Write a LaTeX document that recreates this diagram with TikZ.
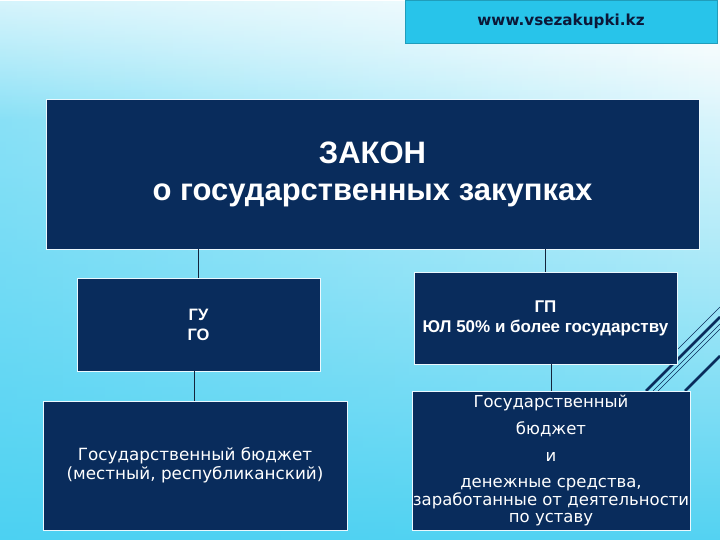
\documentclass[tikz,border=0pt]{standalone}
\usepackage{fontspec}
\setmainfont{Liberation Sans}
\newfontfamily\gothic{DejaVu Sans}
\usetikzlibrary{fadings}
\definecolor{navy}{RGB}{9,44,92}
\definecolor{urlc}{RGB}{40,196,234}
\definecolor{urltxt}{RGB}{12,24,56}
\definecolor{bgbot}{RGB}{84,211,242}
\definecolor{bgleft}{RGB}{70,208,242}
\definecolor{linec}{RGB}{20,36,60}
\tikzset{
  box/.style={draw=white!92!cyan, line width=0.8pt, fill=navy, text=white, align=center, inner sep=0pt},
  conn/.style={draw=linec, line width=0.8pt},
  deco/.style={draw=navy, line cap=butt}
}
\begin{document}
\begin{tikzpicture}[x=1pt,y=-1pt]
\useasboundingbox (0,0) rectangle (720,540);
% background
\shade[top color=white, bottom color=bgbot] (0,0) rectangle (720,540);
\fill[bgleft, path fading=east, fill opacity=0.55] (0,0) rectangle (720,540);
\fill[white, path fading=south, fill opacity=0.6] (0,0) rectangle (720,120);
% decorative lines
\draw[deco, line width=0.5pt] (678,349) -- (720,307);
\draw[deco, line width=2.6pt] (646,391) -- (720,317);
\draw[deco, line width=0.5pt] (653,391) -- (720,324);
\draw[deco, line width=0.5pt] (658,391) -- (720,329);
\draw[deco, line width=2.6pt] (685,391) -- (720,356);
% url box
\node[fill=urlc, draw=urlc!80!black, line width=0.4pt, minimum width=312pt, minimum height=43pt, inner sep=0pt,
      text=urltxt, font=\gothic\bfseries\fontsize{15.2}{17}\selectfont] (url) at (561,21.5) {www.vsezakupki.kz};
% main
\node[box, minimum width=653pt, minimum height=150pt, font=\bfseries\fontsize{31}{37}\selectfont] (main) at (372.5,174)
  {ЗАКОН\\о государственных закупках};
\node[box, minimum width=243pt, minimum height=93pt, font=\bfseries\fontsize{16.5}{20}\selectfont] (gu) at (198.5,324.5)
  {ГУ\\ГО};
\node[box, minimum width=304pt, minimum height=129pt, font=\gothic\fontsize{16.8}{19}\selectfont] (bl) at (195,465.5)
  {Государственный бюджет\\(местный, республиканский)};
\node[box, minimum width=263pt, minimum height=92pt, font=\bfseries\fontsize{17}{20}\selectfont] (gp) at (545.5,318)
  {ГП\\ЮЛ 50\% и более государству};
\node[box, minimum width=278pt, minimum height=139pt, font=\gothic\fontsize{16.5}{17.5}\selectfont] (br) at (551,460.5)
  {Государственный\\[9.5pt]бюджет\\[9.5pt]и\\[8.5pt]денежные средства,\\заработанные от деятельности\\по уставу};
% connectors
\draw[conn] (gu.north) -- (gu.north |- main.south);
\path (gu.south) ++(-4,0) coordinate (c0);
\path (c0 |- bl.north) coordinate (c1);
\draw[conn] (c0) -- (c1);
\draw[conn] (gp.north) -- (gp.north |- main.south);
\draw[conn] (br.north) -- (br.north |- gp.south);
\end{tikzpicture}
\end{document}
